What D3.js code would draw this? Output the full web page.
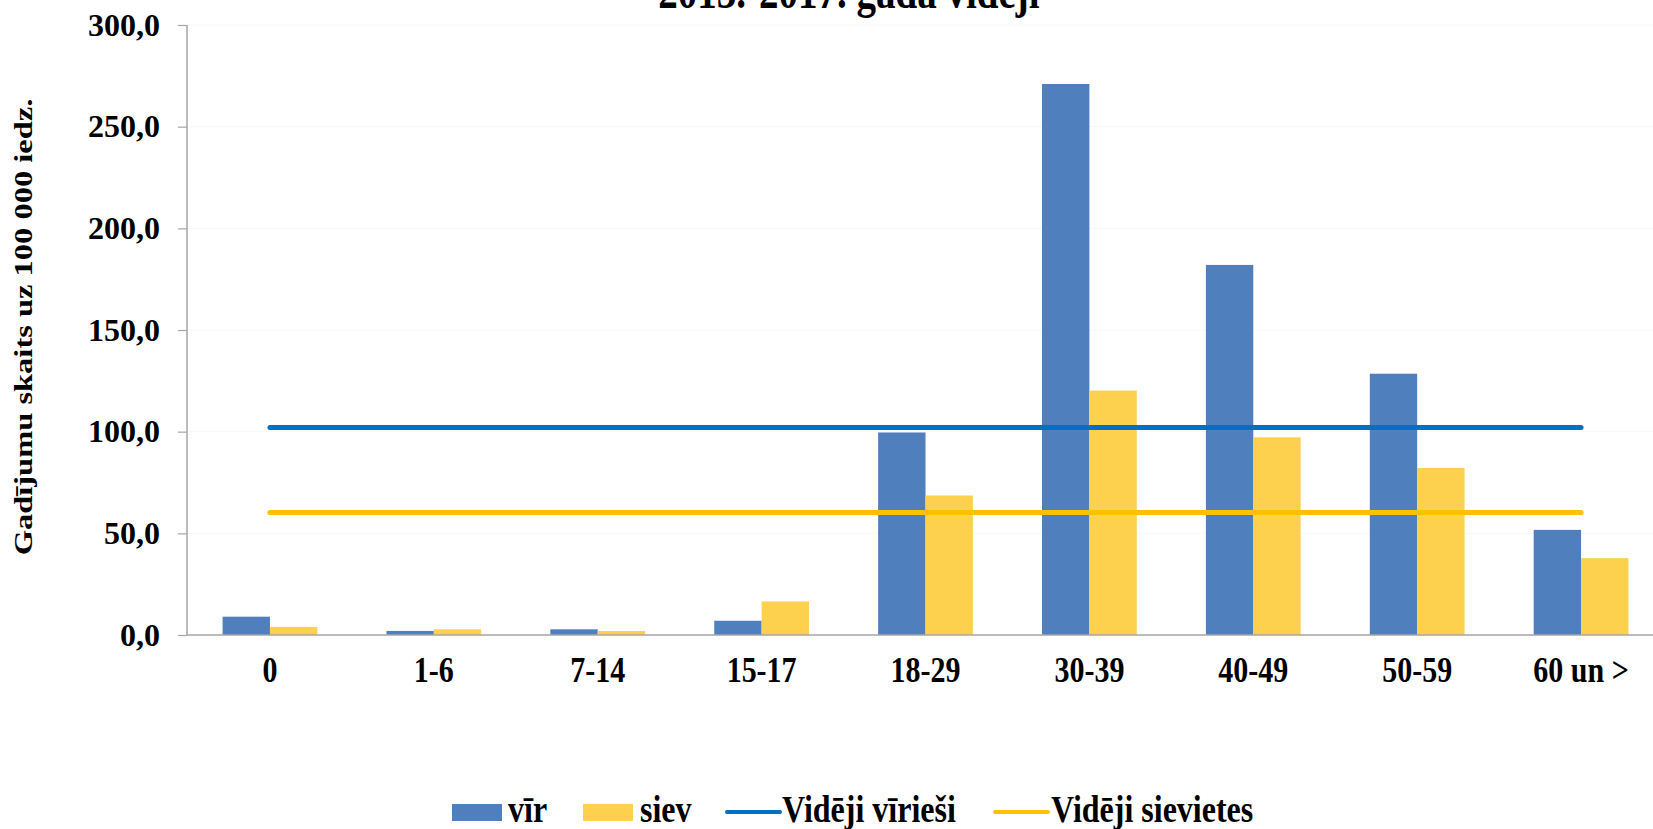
<!DOCTYPE html>
<html>
<head>
<meta charset="utf-8">
<script src="https://cdn.jsdelivr.net/npm/d3@7"></script>
<style>
  html, body { margin: 0; padding: 0; background: #fff; }
  svg { display: block; }
  text { font-family: "Liberation Serif", "Times New Roman", serif; font-weight: bold; fill: #000; }
</style>
</head>
<body>
<svg id="chart" width="1653" height="829"></svg>
<script>
const categories = ["0", "1-6", "7-14", "15-17", "18-29", "30-39", "40-49", "50-59", "60 un >"];
const virValues  = [9.0, 2.0, 2.8, 7.0, 99.6, 271.0, 182.0, 128.5, 51.7];
const sievValues = [4.0, 2.8, 2.0, 16.5, 68.6, 120.2, 97.2, 82.1, 37.8];
const avgVir  = [102.0, 102.0, 102.0, 102.0, 102.0, 102.0, 102.0, 102.0, 102.0];
const avgSiev = [60.2, 60.2, 60.2, 60.2, 60.2, 60.2, 60.2, 60.2, 60.2];
const yTicks = [0, 50, 100, 150, 200, 250, 300];
const seriesNames = ["vīr", "siev"];
const legendLabels = ["vīr", "siev", "Vidēji vīrieši", "Vidēji sievietes"];
const titleText = "2013.-2017. gada  vidēji";
const yAxisTitle = "Gadījumu  skaits uz 100 000 iedz.";

const colors = { vir: "#4F7FBC", siev: "#FDD04E", avgVir: "#0070C0", avgSiev: "#FFC000" };
const SY = 1.22; // vertical stretch of the original rendering

const svg = d3.select("#chart");

const y = d3.scaleLinear().domain([0, 300]).range([635, 25]);
const x0 = d3.scaleBand().domain(categories).range([188, 1663]).paddingInner(0.422).paddingOuter(0.211);
const x1 = d3.scaleBand().domain(seriesNames).range([0, x0.bandwidth()]).padding(0);

// very faint gridlines
svg.append("g").selectAll("line").data(yTicks.filter(d => d > 0)).join("line")
  .attr("x1", 188).attr("x2", 1653)
  .attr("y1", d => y(d)).attr("y2", d => y(d))
  .attr("stroke", "#f8f8f8").attr("stroke-width", 1);

// bars
const groups = svg.append("g").selectAll("g").data(categories).join("g")
  .attr("transform", d => `translate(${x0(d)},0)`);
groups.append("rect")
  .attr("x", x1("vīr")).attr("width", x1.bandwidth())
  .attr("y", (d, i) => y(virValues[i])).attr("height", (d, i) => y(0) - y(virValues[i]))
  .attr("fill", colors.vir);
groups.append("rect")
  .attr("x", x1("siev")).attr("width", x1.bandwidth())
  .attr("y", (d, i) => y(sievValues[i])).attr("height", (d, i) => y(0) - y(sievValues[i]))
  .attr("fill", colors.siev);

// average lines
const line = d3.line()
  .x((d, i) => x0(categories[i]) + x0.bandwidth() / 2)
  .y(d => y(d));
svg.append("path").datum(avgVir).attr("d", line)
  .attr("fill", "none").attr("stroke", colors.avgVir).attr("stroke-width", 5).attr("stroke-linecap", "round");
svg.append("path").datum(avgSiev).attr("d", line)
  .attr("fill", "none").attr("stroke", colors.avgSiev).attr("stroke-width", 5).attr("stroke-linecap", "round");

// y axis
const yAxis = d3.axisLeft(y).tickValues(yTicks).tickSize(9).tickPadding(18)
  .tickFormat(d => d3.format(".1f")(d).replace(".", ","));
const gy = svg.append("g").attr("transform", "translate(187,0)").call(yAxis);
gy.select(".domain").attr("stroke", "#a6a6a6").attr("stroke-width", 1.5).attr("d", "M0,25V635");
gy.selectAll(".tick line").attr("stroke", "#a6a6a6").attr("stroke-width", 1.2);
gy.selectAll(".tick text").style("font-size", "32px").style("font-family", "'Liberation Serif', serif")
  .style("font-weight", "bold").attr("fill", "#000");

// x axis
const xAxis = d3.axisBottom(x0).tickSize(0).tickPadding(0);
const gx = svg.append("g").attr("transform", "translate(0,635)").call(xAxis);
gx.select(".domain").attr("stroke", "#a6a6a6").attr("stroke-width", 1.5).attr("d", "M187,0H1653");
gx.selectAll(".tick text").remove();
gx.selectAll(".tick").append("text")
  .attr("transform", `translate(0,47) scale(1,${SY})`)
  .attr("text-anchor", "middle")
  .style("font-size", "30px")
  .text(d => d);

// y axis title (stretched along its length)
svg.append("text")
  .attr("transform", `translate(32,327) scale(1,1.25) rotate(-90)`)
  .attr("text-anchor", "middle")
  .style("font-size", "26px")
  .text(yAxisTitle);

// title (clipped at top in the original)
svg.append("text")
  .attr("transform", `translate(849,8) scale(1,${SY})`)
  .attr("text-anchor", "middle")
  .style("font-size", "39px")
  .text(titleText);

// legend
const legendItems = [
  { label: legendLabels[0], type: "rect", color: colors.vir, x: 452, tx: 508 },
  { label: legendLabels[1], type: "rect", color: colors.siev, x: 583, tx: 640 },
  { label: legendLabels[2], type: "line", color: colors.avgVir, x: 727, tx: 782 },
  { label: legendLabels[3], type: "line", color: colors.avgSiev, x: 995, tx: 1051 }
];
const lg = svg.append("g");
legendItems.forEach(it => {
  if (it.type === "rect") {
    lg.append("rect").attr("x", it.x).attr("y", 804).attr("width", 50).attr("height", 17).attr("fill", it.color);
  } else {
    lg.append("line").attr("x1", it.x).attr("x2", it.x + 53).attr("y1", 812).attr("y2", 812)
      .attr("stroke", it.color).attr("stroke-width", 4).attr("stroke-linecap", "round");
  }
  lg.append("text").attr("transform", `translate(${it.tx},822) scale(1,1.16)`)
    .style("font-size", "32px").text(it.label);
});
</script>
</body>
</html>
